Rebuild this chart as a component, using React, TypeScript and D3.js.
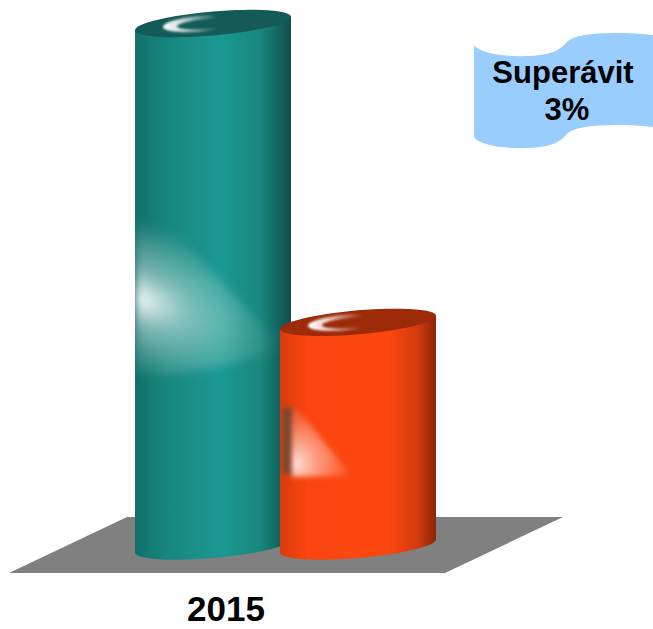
import React from 'react';
import * as d3 from 'd3';

// chart data
const categories = ['2015'];
const seriesNames = ['Serie 1', 'Serie 2'];
const seriesValues = [100, 42.8];
const calloutLines = ['Superávit', '3%'];

const width = 653;
const height = 629;
const font = '"Liberation Sans", Arial, sans-serif';

// look of each cylinder (kept apart from the data)
const looks = [
  {
    top: '#145b57',
    body: [['0%', '#11706b'], ['22%', '#17877f'], ['55%', '#1c9892'], ['80%', '#18877f'], ['100%', '#0f4e4b']],
  },
  {
    top: '#9d2b09',
    body: [['0%', '#d93b0c'], ['18%', '#fb4611'], ['70%', '#fc4711'], ['88%', '#d23c0c'], ['100%', '#8e2507']],
  },
];

const rx = 78;
const ry = 12;
const shear = -0.085;

type Pt = [number, number];

function ellipsePts(cx: number, cy: number, a: number, b: number, k: number, t0: number, t1: number, n = 64): Pt[] {
  return d3.range(n + 1).map(i => {
    const t = t0 + ((t1 - t0) * i) / n;
    return [cx + a * Math.cos(t), cy + b * Math.sin(t) + k * a * Math.cos(t)] as Pt;
  });
}

const line = d3.line<Pt>().x(d => d[0]).y(d => d[1]);

export default function App() {
  const x = d3.scalePoint<string>().domain(seriesNames).range([213, 358]);
  const y = d3.scaleLinear().domain([0, d3.max(seriesValues) as number]).range([546, 23.5]);
  const base = y(0);

  const cyl = seriesNames.map((name, i) => {
    const cx = x(name) as number;
    const yt = y(seriesValues[i]);
    const body: Pt[] = [
      [cx - rx, yt - shear * rx],
      ...ellipsePts(cx, base, rx, ry, shear, Math.PI, 0),
      [cx + rx, yt + shear * rx],
    ];
    const top = ellipsePts(cx, yt, rx, ry, shear, 0, Math.PI * 2);
    // crescent highlight on the lid
    const hc = cx - 10;
    const outer = ellipsePts(hc, yt, 40, 8, shear, 1.35, 4.93, 40);
    const inner = ellipsePts(hc + 8, yt, 34, 5, shear, 4.93, 1.35, 40);
    return { name, cx, yt, body, top, crescent: [...outer, ...inner], look: looks[i] };
  });

  // floor under the bars
  const floor: Pt[] = [[9, 573], [445, 573], [563, 517], [127, 517]];

  // waving note flag
  const edge = (dy: number) =>
    `C478,${52 + dy} 500,${57 + dy} 528,${56 + dy} C552,${55 + dy} 560,${50 + dy} 567,${42 + dy} C575,${34 + dy} 598,${33 + dy} 620,${33 + dy} C638,${33 + dy} 652,${35 + dy} 660,${36 + dy}`;
  const edgeBack = (dy: number) =>
    `C652,${35 + dy} 638,${33 + dy} 620,${33 + dy} C598,${33 + dy} 575,${34 + dy} 567,${42 + dy} C560,${50 + dy} 552,${55 + dy} 528,${56 + dy} C500,${57 + dy} 478,${52 + dy} 474,${45 + dy}`;
  const flagPath = `M474,45 ${edge(0)} L660,128 ${edgeBack(92)} Z`;

  const teal = cyl[0];
  const orange = cyl[1];
  const tL = teal.cx - rx;
  const th = base - teal.yt;
  const oL = orange.cx - rx;
  const oh = base - orange.yt;
  const gy = teal.yt + th * 0.525;
  const og = { x: oL + 14, y: orange.yt + oh * 0.63 };

  return (
    <svg width={width} height={height} style={{ position: 'absolute', left: 0, top: 0 }}>
      <defs>
        {cyl.map((c, i) => (
          <linearGradient key={i} id={`body${i}`} gradientUnits="userSpaceOnUse" x1={c.cx - rx} x2={c.cx + rx} y1={0} y2={0}>
            {c.look.body.map(([o, col]) => (
              <stop key={o} offset={o} stopColor={col} />
            ))}
          </linearGradient>
        ))}
        {cyl.map((c, i) => (
          <clipPath key={i} id={`clip${i}`}>
            <path d={line(c.body) as string} />
          </clipPath>
        ))}
        <linearGradient id="lidShine" x1="0" x2="1" y1="0" y2="0">
          <stop offset="0%" stopColor="#ffffff" stopOpacity={1} />
          <stop offset="30%" stopColor="#ffffff" stopOpacity={0.8} />
          <stop offset="100%" stopColor="#ffffff" stopOpacity={0} />
        </linearGradient>
        <radialGradient id="tealGlare" gradientUnits="userSpaceOnUse" cx={tL + 2} cy={gy} r={150}
          gradientTransform={`translate(${tL + 2},${gy}) rotate(22) scale(1,0.5) translate(${-(tL + 2)},${-gy})`}>
          <stop offset="0%" stopColor="#ffffff" stopOpacity={0.95} />
          <stop offset="35%" stopColor="#ffffff" stopOpacity={0.45} />
          <stop offset="100%" stopColor="#ffffff" stopOpacity={0} />
        </radialGradient>
        <radialGradient id="orangeGlare" gradientUnits="userSpaceOnUse" cx={og.x} cy={og.y} r={60}>
          <stop offset="0%" stopColor="#ffffff" stopOpacity={0.85} />
          <stop offset="40%" stopColor="#ffffff" stopOpacity={0.45} />
          <stop offset="100%" stopColor="#ffffff" stopOpacity={0} />
        </radialGradient>
        <filter id="soft" x="-30%" y="-30%" width="160%" height="160%">
          <feGaussianBlur stdDeviation={4} />
        </filter>
        <filter id="softer" x="-30%" y="-30%" width="160%" height="160%">
          <feGaussianBlur stdDeviation={1.2} />
        </filter>
        <filter id="soft2" x="-50%" y="-30%" width="200%" height="160%">
          <feGaussianBlur stdDeviation={2.5} />
        </filter>
      </defs>

      <path d={line(floor) + 'Z'} fill="#808080" />

      {cyl.map((c, i) => (
        <g key={c.name}>
          <path d={line(c.body) + 'Z'} fill={`url(#body${i})`} />
          {i === 0 && (
            <g clipPath="url(#clip0)">
              <path
                d={`M${tL},${teal.yt + th * 0.33} L${tL + 22},${teal.yt + th * 0.36} L${tL + 150},${teal.yt + th * 0.625} L${tL + 70},${teal.yt + th * 0.665} L${tL},${teal.yt + th * 0.68} Z`}
                fill="url(#tealGlare)"
                filter="url(#soft)"
              />
            </g>
          )}
          {i === 1 && (
            <g clipPath="url(#clip1)">
              <rect x={oL + 3} y={orange.yt + oh * 0.38} width={9} height={oh * 0.3} fill="#2f4f4c" opacity={0.6} filter="url(#soft2)" />
              <path
                d={`M${oL + 12},${orange.yt + oh * 0.36} L${oL + 12},${orange.yt + oh * 0.69} L${oL + 72},${orange.yt + oh * 0.685} Z`}
                fill="url(#orangeGlare)"
                filter="url(#soft2)"
              />
            </g>
          )}
          <path d={line(c.top) + 'Z'} fill={c.look.top} />
          <path d={line(c.crescent) + 'Z'} fill="url(#lidShine)" filter="url(#softer)" />
        </g>
      ))}

      <text x={226} y={621} textAnchor="middle" fontFamily={font} fontWeight="bold" fontSize={35} fill="#000">
        {categories[0]}
      </text>

      <path d={flagPath} fill="#99ccff" />
      <text x={563} y={83} textAnchor="middle" fontFamily={font} fontWeight="bold" fontSize={31} fill="#000">
        {calloutLines[0]}
      </text>
      <text x={567} y={120} textAnchor="middle" fontFamily={font} fontWeight="bold" fontSize={31} fill="#000">
        {calloutLines[1]}
      </text>
    </svg>
  );
}
